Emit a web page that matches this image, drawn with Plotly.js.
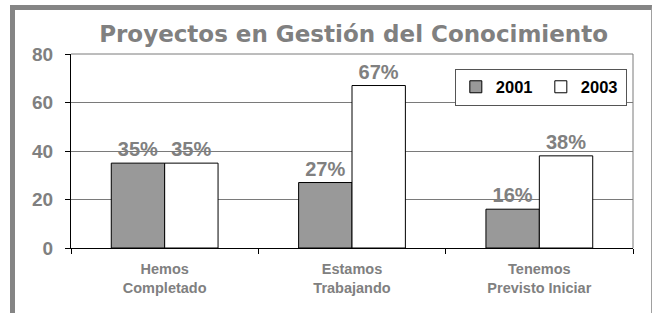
<!DOCTYPE html>
<html>
<head>
<meta charset="utf-8">
<script src="https://cdn.plot.ly/plotly-3.0.1.min.js"></script>
<style>
  html, body { margin: 0; padding: 0; background: #fff; }
  #wrap { position: relative; width: 656px; height: 313px; overflow: hidden; }
  #chart { position: absolute; left: 0; top: 0; width: 656px; height: 313px; }
  #frame { position: absolute; left: 10px; top: 5px; width: 636px; height: 320px;
           border-left: 5px solid #858585; border-top: 5px solid #858585;
           border-right: 1px solid #a0a0a0; pointer-events: none; }
</style>
</head>
<body>
<div id="wrap">
  <div id="chart"></div>
  <div id="frame"></div>
</div>
<script>
const categories = ["Hemos<br>Completado", "Estamos<br>Trabajando", "Tenemos<br>Previsto Iniciar"];
const values2001 = [35, 27, 16];
const values2003 = [35, 67, 38];
const seriesNames = ["2001", "2003"];
const yTicks = [0, 20, 40, 60, 80];

const labelFont = {family: "Liberation Sans, Arial, sans-serif", size: 20, color: "#808080", weight: "bold"};

const traces = [
  {
    type: "bar", name: seriesNames[0], x: categories, y: values2001,
    marker: {color: "#999999", line: {color: "#000000", width: 1}},
    text: values2001.map(v => v + "%"), textposition: "outside",
    textfont: labelFont, cliponaxis: false, hoverinfo: "skip"
  },
  {
    type: "bar", name: seriesNames[1], x: categories, y: values2003,
    marker: {color: "#ffffff", line: {color: "#000000", width: 1}},
    text: values2003.map(v => v + "%"), textposition: "outside",
    textfont: labelFont, cliponaxis: false, hoverinfo: "skip"
  }
];

const layout = {
  width: 656, height: 313,
  margin: {l: 71, r: 23, t: 54, b: 65, autoexpand: false},
  paper_bgcolor: "#ffffff", plot_bgcolor: "#ffffff",
  barmode: "group", bargap: 0.43, bargroupgap: 0,
  title: {
    text: "Proyectos en Gestión del Conocimiento",
    font: {family: "DejaVu Sans, sans-serif", size: 23, color: "#808080", weight: "bold"},
    x: 0.539, xanchor: "center", y: 0.893, yanchor: "middle"
  },
  xaxis: {
    type: "category", automargin: false,
    showline: true, linecolor: "#000000", linewidth: 1,
    ticks: "outside", tickson: "boundaries", ticklen: 5, tickcolor: "#000000",
    ticklabelstandoff: 8,
    tickfont: {family: "Liberation Sans, Arial, sans-serif", size: 14.5, color: "#808080", weight: "bold"},
    showgrid: false
  },
  yaxis: {
    range: [0, 80], tickvals: yTicks, ticktext: yTicks.map(String), automargin: false,
    showline: true, linecolor: "#000000", linewidth: 1,
    ticks: "outside", ticklen: 5, tickcolor: "#000000",
    ticklabelstandoff: 8,
    showgrid: true, gridcolor: "#7a7a7a", gridwidth: 1,
    zeroline: false,
    tickfont: {family: "Liberation Sans, Arial, sans-serif", size: 19, color: "#808080", weight: "bold"}
  },
  shapes: [
    {type: "path", xref: "paper", yref: "paper", path: "M 0,1 L 1,1 L 1,0",
     line: {color: "#7a7a7a", width: 1}, layer: "below"}
  ],
  legend: {
    orientation: "h", x: 0.989, xanchor: "right", y: 0.925, yanchor: "top",
    bgcolor: "#ffffff", bordercolor: "#555555", borderwidth: 1,
    font: {family: "Liberation Sans, Arial, sans-serif", size: 16.5, color: "#000000", weight: "bold"},
    entrywidth: 40, entrywidthmode: "pixels",
    itemclick: false, itemdoubleclick: false
  },
  showlegend: true
};

Plotly.newPlot("chart", traces, layout, {displayModeBar: false, staticPlot: true});
</script>
</body>
</html>
